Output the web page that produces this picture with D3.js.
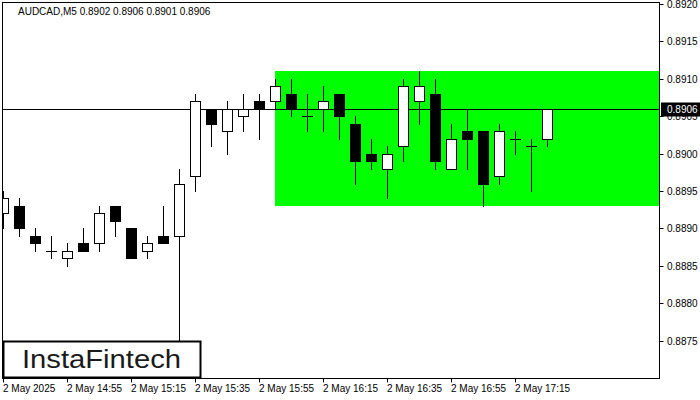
<!DOCTYPE html>
<html>
<head>
<meta charset="utf-8">
<script src="https://cdn.jsdelivr.net/npm/d3@7"></script>
<style>
html,body{margin:0;padding:0;background:#fff;}
svg{display:block;}
text{font-family:"Liberation Sans",Arial,sans-serif;}
</style>
</head>
<body>
<div id="chart"></div>
<script>
const symbolTitle = "AUDCAD,M5  0.8902 0.8906 0.8901 0.8906";
const opens  = [0.8892,0.8893,0.8889,0.8887,0.8886,0.8888,0.8888,0.8893,0.8890,0.8887,0.8889,0.8889,0.8897,0.8906,0.8903,0.8905,0.8907,0.8907,0.8908,0.8905,0.8906,0.8908,0.8904,0.8900,0.8898,0.8901,0.8907,0.8908,0.8898,0.8903,0.8903,0.8897,0.8902,0.8901,0.8902];
const highs  = [0.8895,0.8894,0.8890,0.8889,0.8888,0.8890,0.8893,0.8893,0.8890,0.8889,0.8893,0.8898,0.8908,0.8906,0.8907,0.8908,0.8908,0.8910,0.8910,0.8908,0.8909,0.8908,0.8905,0.8902,0.8901,0.8910,0.8911,0.8910,0.8904,0.8906,0.8903,0.8904,0.8903,0.8902,0.8906];
const lows   = [0.8890,0.8889,0.8887,0.8886,0.8885,0.8887,0.8887,0.8889,0.8886,0.8886,0.8888,0.8874,0.8895,0.8901,0.8900,0.8903,0.8902,0.8906,0.8905,0.8903,0.8903,0.8902,0.8896,0.8898,0.8894,0.8899,0.8904,0.8898,0.8898,0.8898,0.8893,0.8896,0.8900,0.8895,0.8901];
const closes = [0.8894,0.8890,0.8888,0.8887,0.8887,0.8887,0.8892,0.8891,0.8886,0.8888,0.8888,0.8896,0.8907,0.8904,0.8906,0.8906,0.8906,0.8909,0.8906,0.8905,0.8907,0.8905,0.8899,0.8899,0.8900,0.8909,0.8909,0.8899,0.8902,0.8902,0.8896,0.8903,0.8902,0.8901,0.8906];
const xTickIndex  = [0,4,8,12,16,20,24,28,32];
const xTickLabels = ["2 May 2025","2 May 14:55","2 May 15:15","2 May 15:35","2 May 15:55","2 May 16:15","2 May 16:35","2 May 16:55","2 May 17:15"];
const yTicks = [0.8875,0.8880,0.8885,0.8890,0.8895,0.8900,0.8905,0.8910,0.8915,0.8920];
const currentPrice = 0.8906;
const zoneTop = 0.8911, zoneBottom = 0.8893, zoneStartIndex = 17;
const logoText = "InstaFintech";

(function(){
const W = 700, H = 400;
const pLeft = 2.5, pRight = 659.5, pTop = 2.5, pBottom = 378.5;

const x = d3.scaleLinear().domain([0, 41]).range([3, 659]);
const y = d3.scaleLinear().domain([0.8875, 0.8920]).range([340.6, 4]);
const py = v => Math.round(y(v));

const svg = d3.select("#chart").append("svg").attr("width", W).attr("height", H);

svg.append("defs").append("clipPath").attr("id","plotclip")
  .append("rect").attr("x", pLeft).attr("y", pTop).attr("width", pRight-pLeft).attr("height", pBottom-pTop);

const plot = svg.append("g").attr("clip-path","url(#plotclip)");

// green zone
plot.append("rect")
  .attr("x", x(zoneStartIndex))
  .attr("y", py(zoneTop))
  .attr("width", pRight - x(zoneStartIndex))
  .attr("height", py(zoneBottom) - py(zoneTop))
  .attr("fill", "#00ff00");

// current price line
plot.append("line")
  .attr("x1", 0).attr("x2", pRight)
  .attr("y1", py(currentPrice)+0.5).attr("y2", py(currentPrice)+0.5)
  .attr("stroke", "#000").attr("stroke-width", 1);

const data = opens.map((o,i)=>({i, o, h:highs[i], l:lows[i], c:closes[i]}));

const candles = plot.selectAll("g.candle").data(data).enter().append("g").attr("class","candle");
candles.append("line")
  .attr("x1", d => x(d.i)+0.5).attr("x2", d => x(d.i)+0.5)
  .attr("y1", d => py(d.h)).attr("y2", d => py(d.l)+1)
  .attr("stroke","#000").attr("stroke-width",1);
candles.each(function(d){
  const g = d3.select(this);
  const cx = x(d.i);
  if (d.o === d.c) {
    g.append("line")
      .attr("x1", cx-5).attr("x2", cx+6)
      .attr("y1", py(d.o)+0.5).attr("y2", py(d.o)+0.5)
      .attr("stroke","#000").attr("stroke-width",1);
  } else {
    const yt = py(Math.max(d.o,d.c)), yb = py(Math.min(d.o,d.c));
    g.append("rect")
      .attr("x", cx-5+0.5).attr("y", yt+0.5)
      .attr("width", 10).attr("height", yb-yt)
      .attr("fill", d.c > d.o ? "#fff" : "#000")
      .attr("stroke","#000").attr("stroke-width",1);
  }
});

// frame
svg.append("rect").attr("x", pLeft).attr("y", pTop).attr("width", pRight-pLeft).attr("height", pBottom-pTop)
  .attr("fill","none").attr("stroke","#000").attr("stroke-width",1);

// right axis
const ry = svg.append("g");
yTicks.forEach(v => {
  const yy = py(v)+0.5;
  ry.append("line").attr("x1", pRight).attr("x2", pRight+4).attr("y1", yy).attr("y2", yy).attr("stroke","#000");
  ry.append("text").attr("x", 667).attr("y", yy+3.5).attr("font-size","10px").attr("fill","#000").text(v.toFixed(4));
});

// current price label
const cpy = py(currentPrice)+0.5;
svg.append("rect").attr("x", 661).attr("y", cpy-7).attr("width", 39).attr("height", 14).attr("fill","#000");
svg.append("text").attr("x", 667).attr("y", cpy+3.5).attr("font-size","10px").attr("fill","#fff").text(currentPrice.toFixed(4));

// bottom axis
xTickIndex.forEach((idx,k) => {
  const xx = x(idx)+0.5;
  svg.append("line").attr("x1", xx).attr("x2", xx).attr("y1", pBottom).attr("y2", pBottom+4).attr("stroke","#000");
  svg.append("text").attr("x", x(idx)).attr("y", 392).attr("font-size","10px").attr("fill","#000").text(xTickLabels[k]);
});

// title
svg.append("text").attr("x", 18).attr("y", 14.5).attr("font-size","10px").attr("fill","#000").text(symbolTitle);

// logo
svg.append("rect").attr("x", 3.5).attr("y", 341.5).attr("width", 197).attr("height", 36)
  .attr("fill","#fff").attr("stroke","#000").attr("stroke-width",2);
svg.append("text").attr("x", 22).attr("y", 367.5)
  .attr("font-family","Lato, 'Open Sans', sans-serif").attr("font-size","25px").attr("font-weight","500")
  .attr("fill","#1a1a1a")
  .attr("textLength", 159).attr("lengthAdjust","spacingAndGlyphs")
  .text(logoText);
})();
</script>
</body>
</html>
